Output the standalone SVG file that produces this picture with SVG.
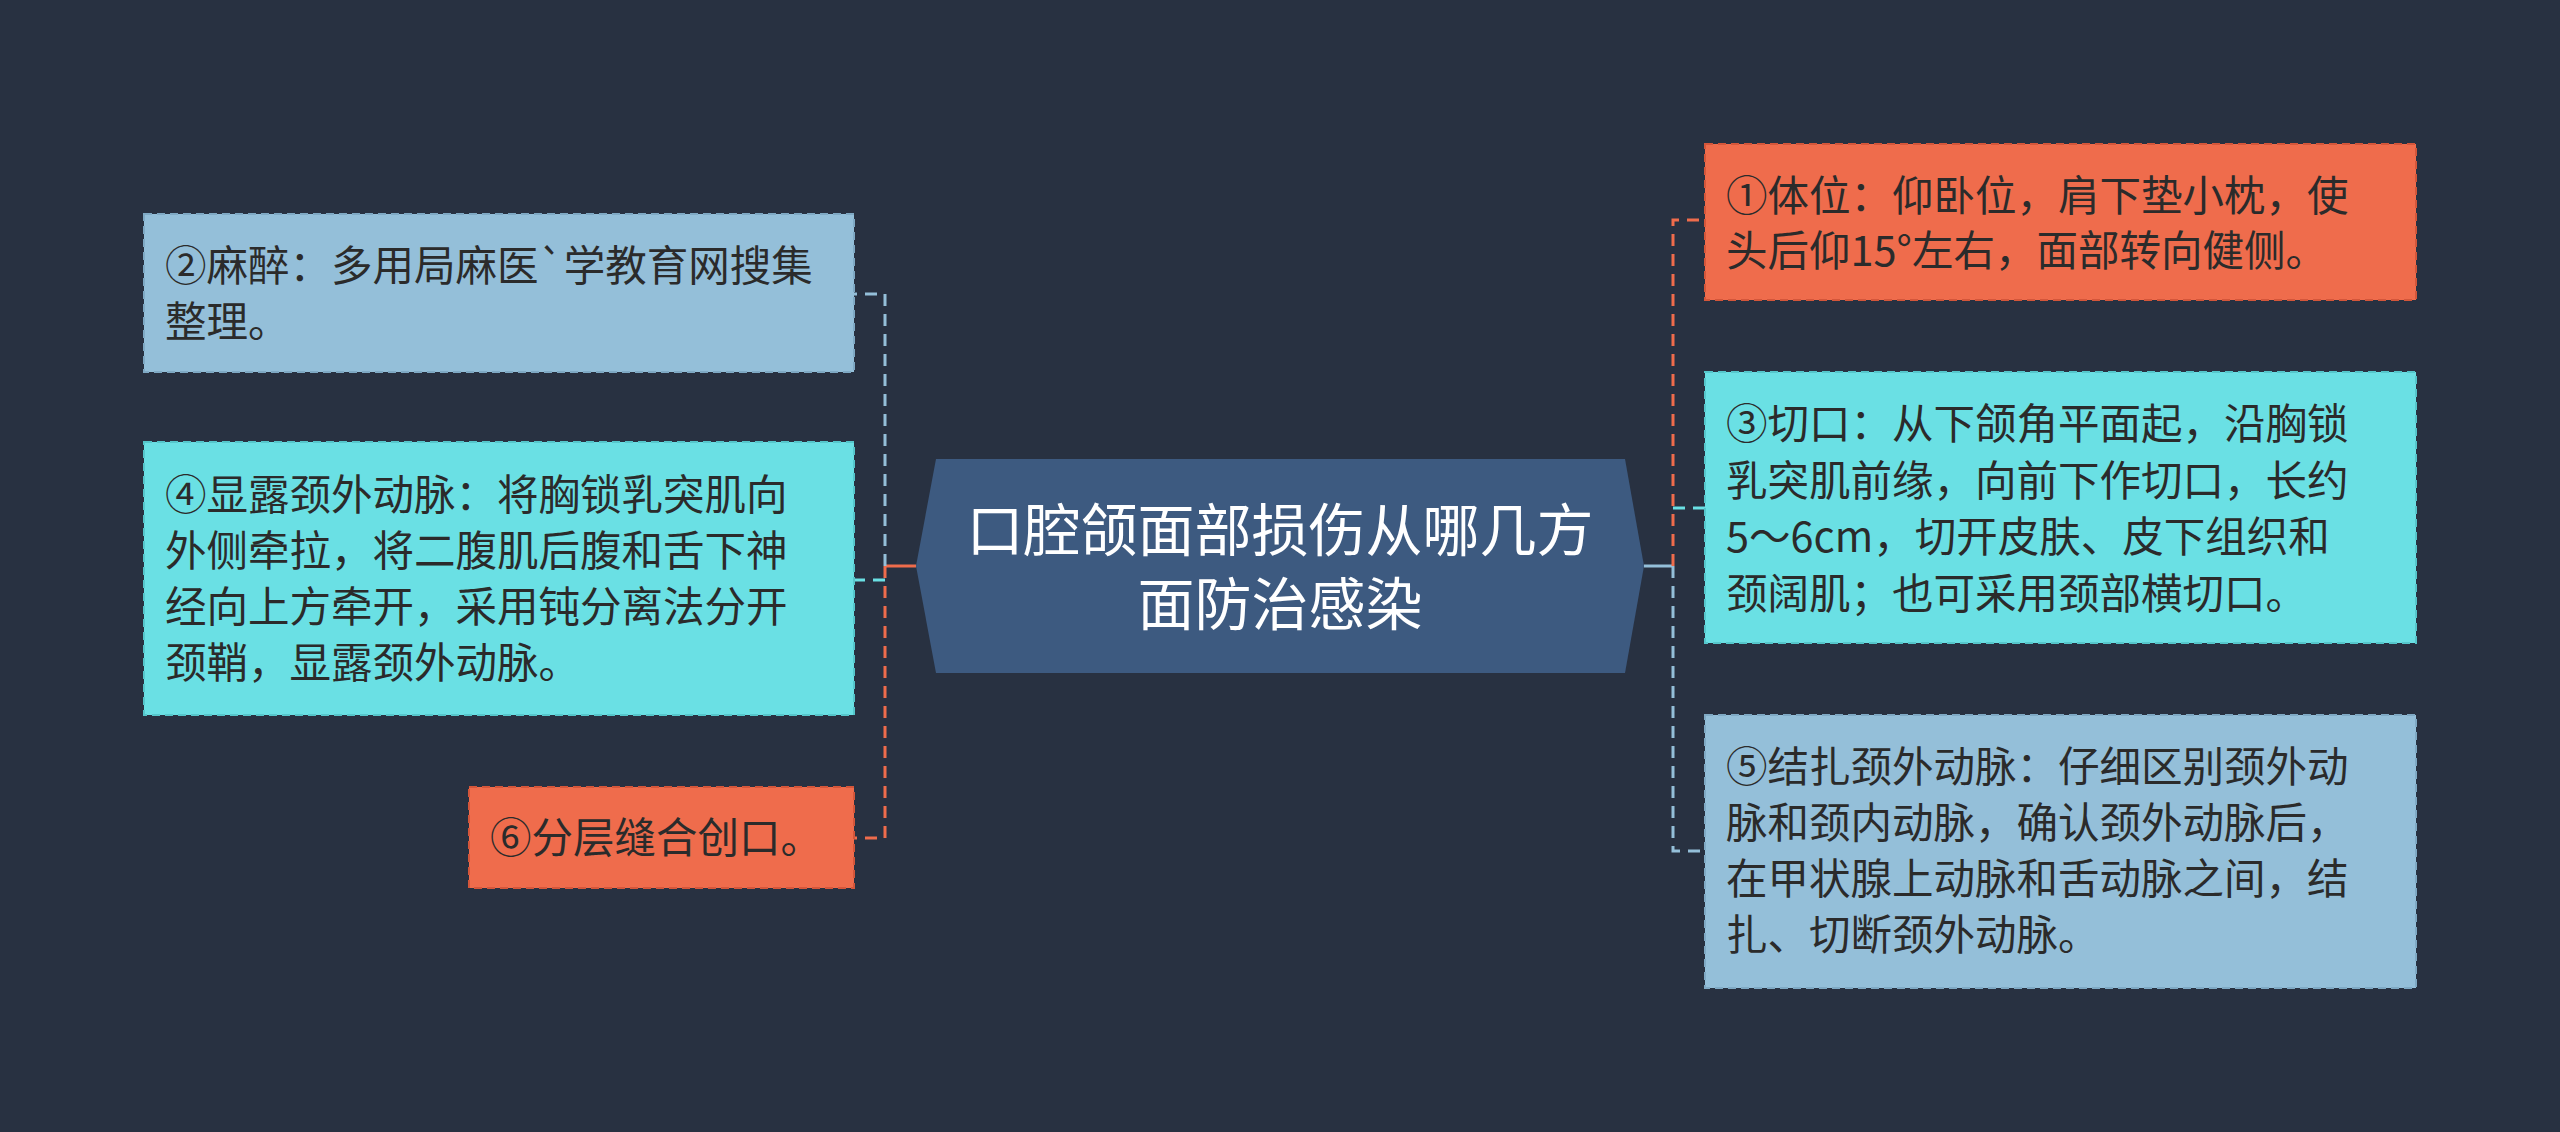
<svg xmlns="http://www.w3.org/2000/svg" width="2560" height="1132" viewBox="0 0 2560 1132">
<style>
.t{font-family:"Noto Sans CJK SC","Noto Sans",sans-serif;font-size:41.5px;fill:#2b2b2b}
.c{font-family:"Noto Sans CJK SC","Noto Sans",sans-serif;font-size:57px;fill:#ffffff}
.bl{fill:#94bfd9;stroke:#7fa9c4}
.cy{fill:#6ae0e4;stroke:#55c6cb}
.or{fill:#ef6c4c;stroke:#d4563a}
rect{stroke-width:2;stroke-dasharray:8 5}
.l{fill:none;stroke-width:3;stroke-dasharray:12 8}
</style>
<rect x="0" y="0" width="2560" height="1132" fill="#283141" style="stroke:none"/>
<g id="connectors">
<path d="M916 566H885" stroke="#ef6c4c" stroke-width="3" fill="none"/>
<path class="l" stroke="#94bfd9" d="M885 566V294H854"/>
<path class="l" stroke="#6ae0e4" d="M885 580H854"/>
<path class="l" stroke="#ef6c4c" d="M885 566V838H854"/>
<path d="M1644 566H1673" stroke="#94bfd9" stroke-width="3" fill="none"/>
<path class="l" stroke="#ef6c4c" d="M1673 566V220H1705"/>
<path class="l" stroke="#6ae0e4" d="M1673 508H1705"/>
<path class="l" stroke="#94bfd9" d="M1673 566V851H1705"/>
</g>
<g id="center">
<polygon points="936,459 1625,459 1644,566 1625,673 936,673 916,566" fill="#3d5a80"/>
<text class="c" x="1280" y="551" text-anchor="middle">口腔颌面部损伤从哪几方</text>
<text class="c" x="1280" y="625" text-anchor="middle">面防治感染</text>
</g>
<g id="n2">
<rect class="bl" x="144" y="214" width="710" height="158"/>
<text class="t" x="165" y="281">②麻醉：多用局麻医`学教育网搜集</text>
<text class="t" x="165" y="337">整理。</text>
</g>
<g id="n4">
<rect class="cy" x="144" y="442" width="710" height="273"/>
<text class="t" x="165" y="510">④显露颈外动脉：将胸锁乳突肌向</text>
<text class="t" x="165" y="566">外侧牵拉，将二腹肌后腹和舌下神</text>
<text class="t" x="165" y="622">经向上方牵开，采用钝分离法分开</text>
<text class="t" x="165" y="678">颈鞘，显露颈外动脉。</text>
</g>
<g id="n6">
<rect class="or" x="469" y="787" width="385" height="101"/>
<text class="t" x="490" y="853">⑥分层缝合创口。</text>
</g>
<g id="n1">
<rect class="or" x="1705" y="144" width="711" height="156"/>
<text class="t" x="1726" y="211">①体位：仰卧位，肩下垫小枕，使</text>
<text class="t" x="1726" y="266">头后仰15°左右，面部转向健侧。</text>
</g>
<g id="n3">
<rect class="cy" x="1705" y="372" width="711" height="271"/>
<text class="t" x="1726" y="439">③切口：从下颌角平面起，沿胸锁</text>
<text class="t" x="1726" y="496">乳突肌前缘，向前下作切口，长约</text>
<text class="t" x="1726" y="552">5～6cm，切开皮肤、皮下组织和</text>
<text class="t" x="1726" y="609">颈阔肌；也可采用颈部横切口。</text>
</g>
<g id="n5">
<rect class="bl" x="1705" y="715" width="711" height="273"/>
<text class="t" x="1726" y="782">⑤结扎颈外动脉：仔细区别颈外动</text>
<text class="t" x="1726" y="838">脉和颈内动脉，确认颈外动脉后，</text>
<text class="t" x="1726" y="894">在甲状腺上动脉和舌动脉之间，结</text>
<text class="t" x="1726" y="950">扎、切断颈外动脉。</text>
</g>
</svg>
